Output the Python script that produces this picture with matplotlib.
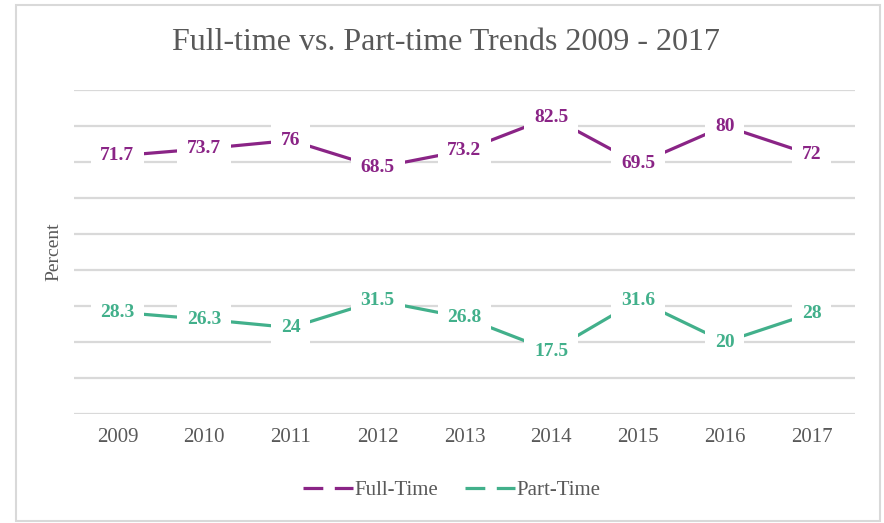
import matplotlib.pyplot as plt
from matplotlib.lines import Line2D
from matplotlib.patches import Rectangle

years = ['2009', '2010', '2011', '2012', '2013', '2014', '2015', '2016', '2017']
full_time = [71.7, 73.7, 76, 68.5, 73.2, 82.5, 69.5, 80, 72]
part_time = [28.3, 26.3, 24, 31.5, 26.8, 17.5, 31.6, 20, 28]
full_labels = ['71.7', '73.7', '76', '68.5', '73.2', '82.5', '69.5', '80', '72']
part_labels = ['28.3', '26.3', '24', '31.5', '26.8', '17.5', '31.6', '20', '28']

purple = '#8A2486'
green = '#42B08B'
gray = '#595959'
grid_c = '#d9d9d9'

plt.rcParams['font.family'] = ['Liberation Serif', 'DejaVu Serif']

fig = plt.figure(figsize=(8.84, 5.23), dpi=100)
ax = fig.add_axes([0.0837, 0.2084, 0.8835, 0.6195])

# chart border
fig.patches.append(Rectangle((16 / 884, 1 - 521 / 523), 864 / 884, 516 / 523,
                             transform=fig.transFigure, fill=False,
                             edgecolor=grid_c, linewidth=1.5))

x = list(range(len(years)))
ax.plot(x, full_time, color=purple, lw=2.3, zorder=3)
ax.plot(x, part_time, color=green, lw=2.3, zorder=3)

for xi, v, s in zip(x, full_time, full_labels):
    ax.text(xi, v, s, ha='center', va='center', color=purple, fontsize=14,
            fontweight='bold', zorder=4,
            bbox=dict(boxstyle='square,pad=0.5', fc='white', ec='none'))
for xi, v, s in zip(x, part_time, part_labels):
    ax.text(xi, v, s, ha='center', va='center', color=green, fontsize=14,
            fontweight='bold', zorder=4,
            bbox=dict(boxstyle='square,pad=0.5', fc='white', ec='none'))

ax.set_xlim(-0.5, 8.5)
ax.set_ylim(0, 90)
ax.set_yticks(range(0, 91, 10))
ax.set_yticklabels([])
ax.set_xticks(x)
ax.set_xticklabels(years, color=gray, fontsize=15)
ax.tick_params(length=0)
ax.tick_params(axis='x', pad=10)
ax.grid(axis='y', color=grid_c, lw=1.6, zorder=0)
for sp in ax.spines.values():
    sp.set_visible(False)
ax.set_ylabel('Percent', color=gray, fontsize=14, labelpad=5)

fig.text(0.505, 0.918, 'Full-time vs. Part-time Trends 2009 - 2017',
         ha='center', va='center', color=gray, fontsize=23)

handles = [Line2D([], [], color=purple, lw=2.3, linestyle=(0, (6.2, 3.6))),
           Line2D([], [], color=green, lw=2.3, linestyle=(0, (6.2, 3.6)))]
fig.legend(handles, ['Full-Time', 'Part-Time'], loc='center',
           bbox_to_anchor=(0.511, 0.063), ncol=2, frameon=False,
           fontsize=15, labelcolor=gray, handlelength=2.4,
           handletextpad=0.05, columnspacing=1.3)

fig.savefig('out.png', dpi=100)
